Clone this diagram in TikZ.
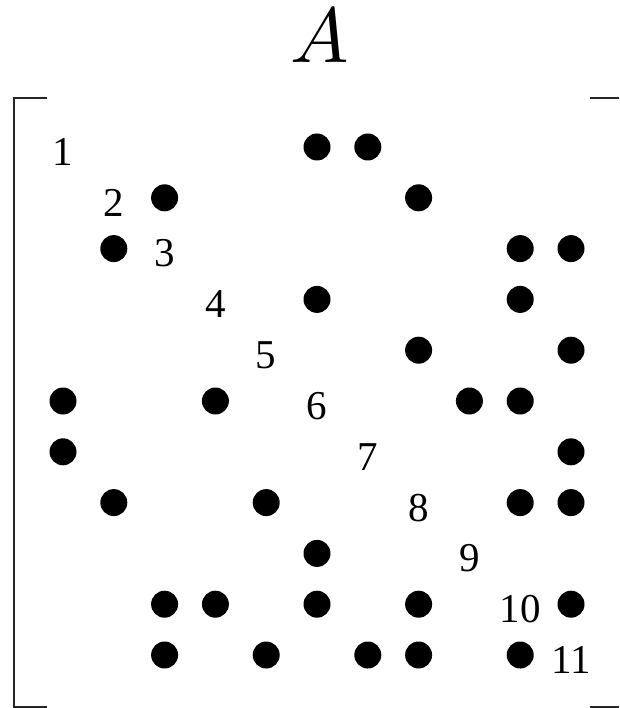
\documentclass[tikz,border=0pt]{standalone}
\usepackage{fontspec}
\setmainfont{Liberation Serif}
\usetikzlibrary{positioning}

\begin{document}
\begin{tikzpicture}[
  x=1pt,y=-1pt,
  entry/.style={circle,fill=black,inner sep=0pt,minimum size=27pt},
  diaglabel/.style={inner sep=0pt,font=\fontsize{41}{44}\selectfont},
  bracket/.style={draw=black!85,line width=2pt},
]
\useasboundingbox (0,0) rectangle (619,708);
\node[inner sep=0pt,anchor=base,scale=7.8] (title) at (320,63) {$A$};

% diagonal labels
\foreach \i in {1,...,11}
  \node[diaglabel] (lab\i) at ({63+(\i-1)*50.8},{152+(\i-1)*50.8}) {\i};

% nonzero pattern, row/column
\foreach \r/\c in {1/6,1/7,2/3,2/8,3/2,3/10,3/11,4/6,4/10,5/8,5/11,
                   6/1,6/4,6/9,6/10,7/1,7/11,8/2,8/5,8/10,8/11,9/6,
                   10/3,10/4,10/6,10/8,10/11,11/3,11/5,11/7,11/8,11/10}
  \node[entry] (e\r-\c) at ({63+(\c-1)*50.8},{147+(\r-1)*50.8}) {};

% brackets
\draw[bracket] (47,98) -- (14,98) -- (14,707) -- (47,707);
\draw[bracket] (590,98) -- (619,98);
\draw[bracket] (590,707) -- (619,707);
\end{tikzpicture}
\end{document}
